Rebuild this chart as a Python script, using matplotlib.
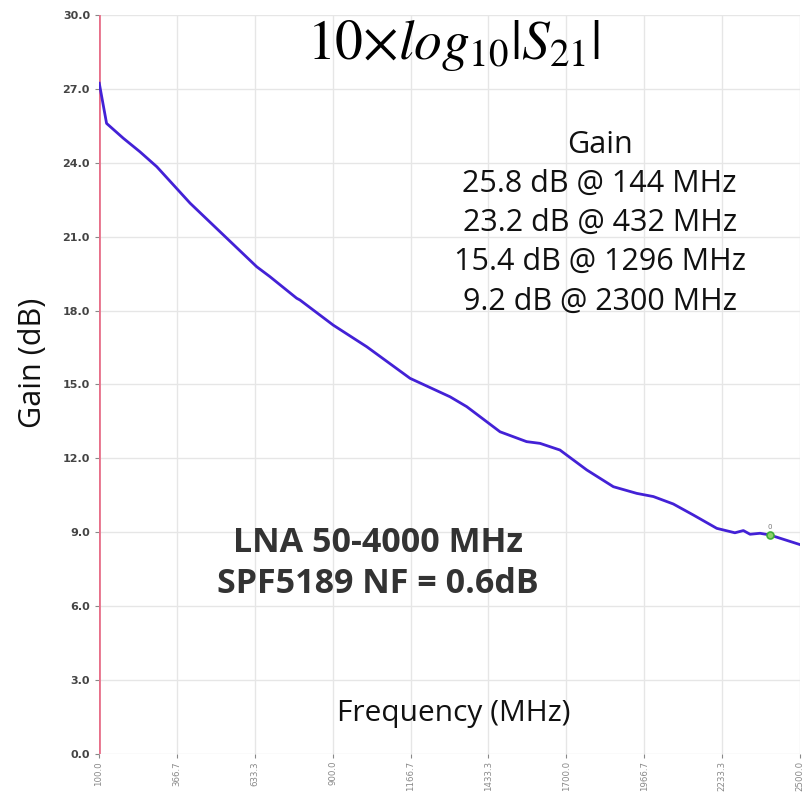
import matplotlib.pyplot as plt
import numpy as np

# Gain curve
freq_mhz = [101, 126, 183, 240, 298, 412, 526, 640, 685, 777, 788, 902, 1017, 1165,
            1302, 1359, 1473, 1564, 1610, 1678, 1770, 1861, 1941, 1998, 2066, 2135,
            2215, 2277, 2306, 2329, 2363, 2397, 2500]
gain_db = [27.23, 25.60, 25.00, 24.45, 23.84, 22.36, 21.07, 19.78, 19.38, 18.50, 18.43,
           17.41, 16.53, 15.25, 14.50, 14.10, 13.08, 12.68, 12.61, 12.34, 11.53, 10.85,
           10.58, 10.45, 10.15, 9.70, 9.16, 8.98, 9.07, 8.92, 8.96, 8.89, 8.50]
marker_freq = [2397]
marker_gain = [8.89]

x_ticks = [100.0, 366.7, 633.3, 900.0, 1166.7, 1433.3, 1700.0, 1966.7, 2233.3, 2500.0]
y_ticks = [0.0, 3.0, 6.0, 9.0, 12.0, 15.0, 18.0, 21.0, 24.0, 27.0, 30.0]

gain_notes = ['Gain', '25.8 dB @ 144 MHz', '23.2 dB @ 432 MHz',
              '15.4 dB @ 1296 MHz', '9.2 dB @ 2300 MHz']

fig = plt.figure(figsize=(8.06, 7.94), dpi=100)
ax = fig.add_axes([0.1228, 0.0504, 0.8698, 0.9307])

ax.plot(freq_mhz, gain_db, color='#4321d6', lw=2, zorder=3)
ax.plot(marker_freq, marker_gain, 'o', ms=5, mfc='#8fd16b', mec='#3fae3a', mew=1.2, zorder=4)
ax.text(marker_freq[0], marker_gain[0] + 0.25, '0', fontsize=5, color='#777777', ha='center')

ax.axvline(x_ticks[0], color='#e8708a', lw=2, zorder=2)

ax.set_xlim(x_ticks[0], x_ticks[-1])
ax.set_ylim(y_ticks[0], y_ticks[-1])
ax.set_xticks(x_ticks)
ax.set_xticklabels([f'{v:.1f}' for v in x_ticks], rotation=90, fontsize=6.2, color='#888888')
ax.set_yticks(y_ticks)
ax.set_yticklabels([f'{v:.1f}' for v in y_ticks], fontsize=8, color='#444444', fontweight='bold')
ax.tick_params(axis='x', length=3, pad=2, color='#888888', width=0.8)
ax.tick_params(axis='y', length=3, color='#888888', width=0.8)
ax.grid(True, color='#e6e6e6', lw=1)
ax.set_axisbelow(True)
for s in ax.spines.values():
    s.set_visible(False)

plt.rcParams['mathtext.fontset'] = 'stix'
fig.text(0.562, 0.943, r'$10{\times}log_{10}|S_{21}|$', fontsize=40, ha='center', va='center')

for i, line in enumerate(gain_notes):
    fig.text(0.744, 0.818 - i * 0.0494, line, fontsize=22, ha='center', va='center',
             family='Open Sans', color='#111111')

fig.text(0.469, 0.316, 'LNA 50-4000 MHz', fontsize=24.5, fontweight='bold', ha='center',
         va='center', family='Open Sans', color='#333333')
fig.text(0.469, 0.265, 'SPF5189 NF = 0.6dB', fontsize=24.5, fontweight='bold', ha='center',
         va='center', family='Open Sans', color='#333333')

fig.text(0.563, 0.102, 'Frequency (MHz)', fontsize=21.5, ha='center', va='center',
         family='Open Sans', color='#111111')
fig.text(0.041, 0.543, 'Gain (dB)', fontsize=22, ha='center', va='center', rotation=90,
         family='Open Sans', color='#111111')

fig.savefig('out.png', dpi=100)
